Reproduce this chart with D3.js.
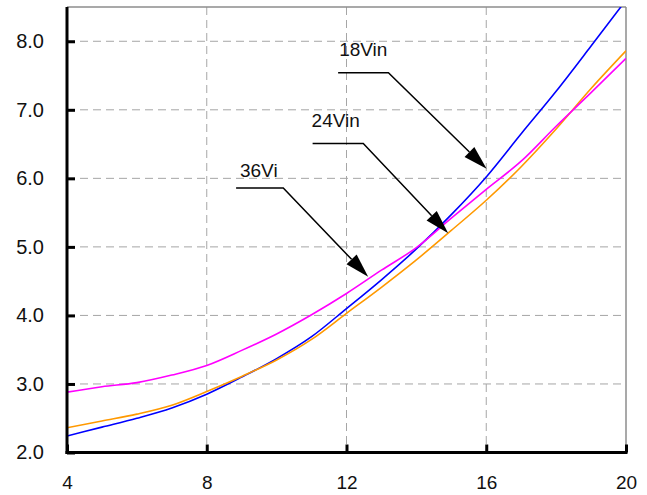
<!DOCTYPE html>
<html>
<head>
<meta charset="utf-8">
<script src="https://cdn.jsdelivr.net/npm/d3@7/dist/d3.min.js"></script>
<style>
  html, body { margin: 0; padding: 0; background: #fff; }
  svg { display: block; font-family: "Liberation Sans", Arial, sans-serif; }
</style>
</head>
<body>
<svg id="chart" width="647" height="495"></svg>
<script>
// ---- data ----
const xValues = [4, 5, 6, 7, 8, 9, 10, 11, 12, 13, 14, 15, 16, 17, 18, 19, 20];
const vin18 = [2.24, 2.37, 2.50, 2.65, 2.85, 3.10, 3.37, 3.69, 4.10, 4.52, 4.97, 5.47, 6.02, 6.65, 7.27, 7.93, 8.60];
const vin24 = [2.36, 2.46, 2.56, 2.69, 2.89, 3.11, 3.35, 3.65, 4.03, 4.41, 4.81, 5.24, 5.68, 6.17, 6.72, 7.31, 7.86];
const vin36 = [2.88, 2.96, 3.02, 3.13, 3.27, 3.49, 3.73, 4.01, 4.32, 4.66, 4.99, 5.42, 5.84, 6.25, 6.76, 7.25, 7.75];
const xTicks = [4, 8, 12, 16, 20];
const yTicks = [2, 3, 4, 5, 6, 7, 8];
const seriesNames = ["18Vin", "24Vin", "36Vi"];
const seriesColors = ["#0000ff", "#ff9900", "#ff00ff"];
// annotation: label anchor, elbow end, arrow tip (data units)
const annoLabelX = [11.79, 11.00, 8.95];
const annoLabelY = [7.78, 6.75, 6.02];
const annoLineStartX = [11.76, 11.03, 8.84];
const annoLineEndX = [13.20, 12.48, 10.19];
const annoLineY = [7.54, 6.51, 5.86];
const annoTipX = [16.01, 14.91, 12.62];
const annoTipY = [6.14, 5.20, 4.565];

// ---- layout ----
const svg = d3.select("#chart");
const L = 67, R = 626, T = 7, B = 452.5;
const x = d3.scaleLinear().domain([4, 20]).range([L, R]);
const y = d3.scaleLinear().domain([2, 8.5]).range([B, T]);

svg.append("defs").append("clipPath").attr("id", "plotclip")
  .append("rect").attr("x", L).attr("y", T).attr("width", R - L).attr("height", B - T);

// grid
const grid = svg.append("g");
grid.selectAll("line.h").data(yTicks.filter(v => v > 2)).enter().append("line")
  .attr("x1", L).attr("x2", R).attr("y1", d => y(d)).attr("y2", d => y(d))
  .attr("stroke", "#a6a6a6").attr("stroke-width", 1).attr("stroke-dasharray", "8,5");
grid.selectAll("line.v").data(xTicks.filter(v => v > 4 && v < 20)).enter().append("line")
  .attr("y1", T).attr("y2", B).attr("x1", d => x(d)).attr("x2", d => x(d))
  .attr("stroke", "#a6a6a6").attr("stroke-width", 1).attr("stroke-dasharray", "8,5");

// border top/right
svg.append("line").attr("x1", L).attr("x2", R).attr("y1", T).attr("y2", T)
  .attr("stroke", "#8c8c8c").attr("stroke-width", 1.5);
svg.append("line").attr("x1", R).attr("x2", R).attr("y1", T).attr("y2", B)
  .attr("stroke", "#8c8c8c").attr("stroke-width", 1.5);

// lines
const allSeries = [vin18, vin24, vin36];
const lineGen = d3.line().x((d, i) => x(xValues[i])).y(d => y(d)).curve(d3.curveMonotoneX);
const linesG = svg.append("g").attr("clip-path", "url(#plotclip)");
allSeries.forEach((s, k) => {
  linesG.append("path").datum(s).attr("d", lineGen)
    .attr("fill", "none").attr("stroke", seriesColors[k]).attr("stroke-width", 1.6)
    .attr("stroke-linejoin", "round");
});

// axes
const yAxis = d3.axisLeft(y).tickValues(yTicks).tickSize(-8).tickPadding(0).tickFormat(d3.format(".1f"));
const yg = svg.append("g").attr("transform", `translate(${L},0)`).call(yAxis);
yg.select(".domain").attr("stroke", "#000").attr("stroke-width", 3).attr("d", `M0,${T}V${B + 1.5}`);
yg.selectAll(".tick line").attr("stroke", "#000").attr("stroke-width", 3);
yg.selectAll(".tick text").attr("x", -23).attr("font-size", 20).attr("fill", "#111")
  .attr("font-family", '"Liberation Sans", Arial, sans-serif');

const xAxis = d3.axisBottom(x).tickValues(xTicks).tickSize(-8).tickPadding(0).tickFormat(d3.format("d"));
const xg = svg.append("g").attr("transform", `translate(0,${B})`).call(xAxis);
xg.select(".domain").attr("stroke", "#000").attr("stroke-width", 3).attr("d", `M${L - 1.5},0H${R + 1.5}`);
xg.selectAll(".tick line").attr("stroke", "#000").attr("stroke-width", 3);
xg.selectAll(".tick text").attr("y", 36.5).attr("dy", 0).attr("font-size", 19).attr("fill", "#111")
  .attr("font-family", '"Liberation Sans", Arial, sans-serif');

// annotations
const anno = svg.append("g");
seriesNames.forEach((name, k) => {
  anno.append("text").attr("x", x(annoLabelX[k])).attr("y", y(annoLabelY[k]))
    .attr("font-size", 19).attr("fill", "#111").text(name);
  const sx = x(annoLineStartX[k]), ex = x(annoLineEndX[k]), ly = y(annoLineY[k]);
  const tx = x(annoTipX[k]), ty = y(annoTipY[k]);
  const dx = tx - ex, dy = ty - ly, len = Math.hypot(dx, dy);
  const ux = dx / len, uy = dy / len;
  const headLen = 24, headW = 7;
  const bx = tx - ux * headLen, by = ty - uy * headLen;
  anno.append("path").attr("d", `M${sx},${ly}H${ex}L${bx},${by}`)
    .attr("fill", "none").attr("stroke", "#000").attr("stroke-width", 1.5);
  anno.append("path")
    .attr("d", `M${tx},${ty}L${bx - uy * headW},${by + ux * headW}L${bx + uy * headW},${by - ux * headW}Z`)
    .attr("fill", "#000");
});
</script>
</body>
</html>
